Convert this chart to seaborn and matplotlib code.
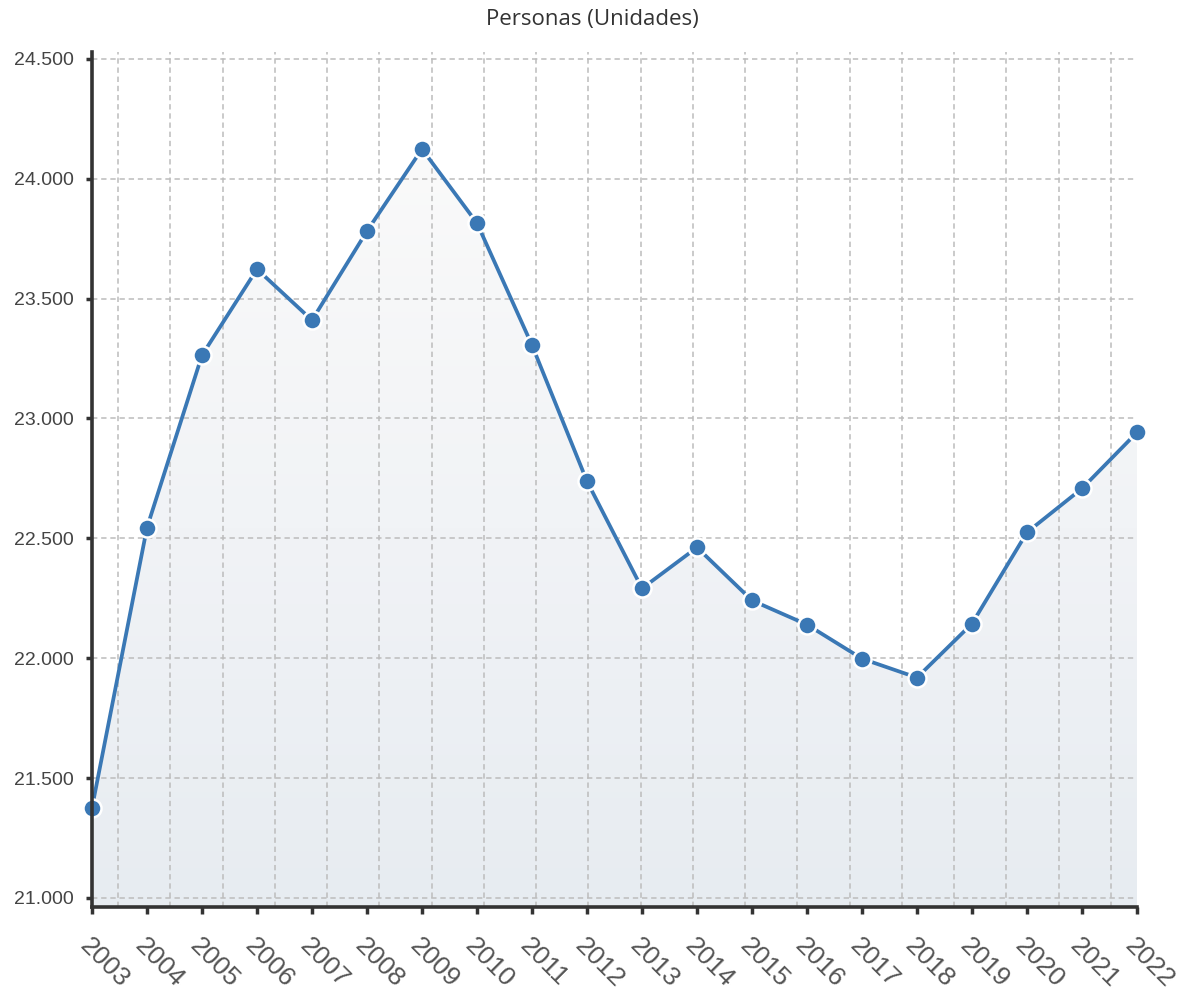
import numpy as np
import pandas as pd
import matplotlib
matplotlib.use("Agg")
import matplotlib.pyplot as plt
import matplotlib.ticker as mticker
from matplotlib.colors import LinearSegmentedColormap
import seaborn as sns

years = list(range(2003, 2023))
personas = [21376, 22545, 23264, 23623, 23410, 23782, 24124, 23815, 23306, 22738,
            22291, 22462, 22241, 22140, 21998, 21919, 22144, 22525, 22708, 22942]
yticks = [21000, 21500, 22000, 22500, 23000, 23500, 24000, 24500]
title = "Personas (Unidades)"

df = pd.DataFrame({"year": years, "personas": personas})

sns.set_style("white")
plt.rcParams["font.family"] = ["Liberation Sans", "DejaVu Sans"]

fig = plt.figure(figsize=(11.97, 9.99), dpi=100)
ax = fig.add_axes([92 / 1197, 1 - 907 / 999, 1045 / 1197, 855 / 999])

ymin, ymax = 20962, 24529
ax.set_xlim(2003, 2022)
ax.set_ylim(ymin, ymax)

# gradient fill under the line
poly = ax.fill_between(df["year"], df["personas"], ymin, color="none", lw=0)
cmap = LinearSegmentedColormap.from_list("g", ["#e7ecf1", "#f1f3f6", "#fafafa"])
grad = np.linspace(0, 1, 256).reshape(-1, 1)
im = ax.imshow(grad, cmap=cmap, aspect="auto", origin="lower",
               extent=[2003, 2022, ymin, max(personas)], zorder=1)
im.set_clip_path(poly.get_paths()[0], transform=ax.transData)

# grid: horizontal at ticks, vertical at band centres
gkw = dict(color="#bcbcbc", lw=1.1, ls=(0, (3.5, 2.5)), zorder=2)
for y in yticks:
    ax.axhline(y, **gkw)
step = (2022 - 2003) / 20
for k in range(20):
    ax.axvline(2003 + (k + 0.5) * step, **gkw)

sns.lineplot(data=df, x="year", y="personas", ax=ax, color="#3a78b5", lw=2.7,
             marker="o", markersize=13, markerfacecolor="#3a78b5",
             markeredgecolor="white", markeredgewidth=1.8, zorder=5, clip_on=False)

ax.set_xticks(years)
ax.set_xticklabels([str(y) for y in years], rotation=-45, ha="left", va="top",
                   rotation_mode="anchor", fontsize=19, color="#555555")
ax.set_yticks(yticks)
ax.yaxis.set_major_formatter(mticker.FuncFormatter(lambda v, p: f"{int(v):,}".replace(",", ".")))
ax.tick_params(axis="y", left=True, labelsize=14, labelcolor="#444444", length=4, width=2.5,
               color="#333333", direction="out", pad=9)
ax.tick_params(axis="x", bottom=True, length=5, width=2.5, color="#333333",
               direction="out", pad=14)
ax.set_xlabel("")
ax.set_ylabel("")
for s in ["top", "right"]:
    ax.spines[s].set_visible(False)
for s in ["left", "bottom"]:
    ax.spines[s].set_color("#333333")
    ax.spines[s].set_linewidth(2.6)
    ax.spines[s].set_zorder(6)

fig.text(592 / 1197, 1 - 20 / 999, title, ha="center", va="center",
         fontsize=16, color="#333333", family=["Open Sans", "DejaVu Sans"])

fig.savefig("out.png", dpi=100)
